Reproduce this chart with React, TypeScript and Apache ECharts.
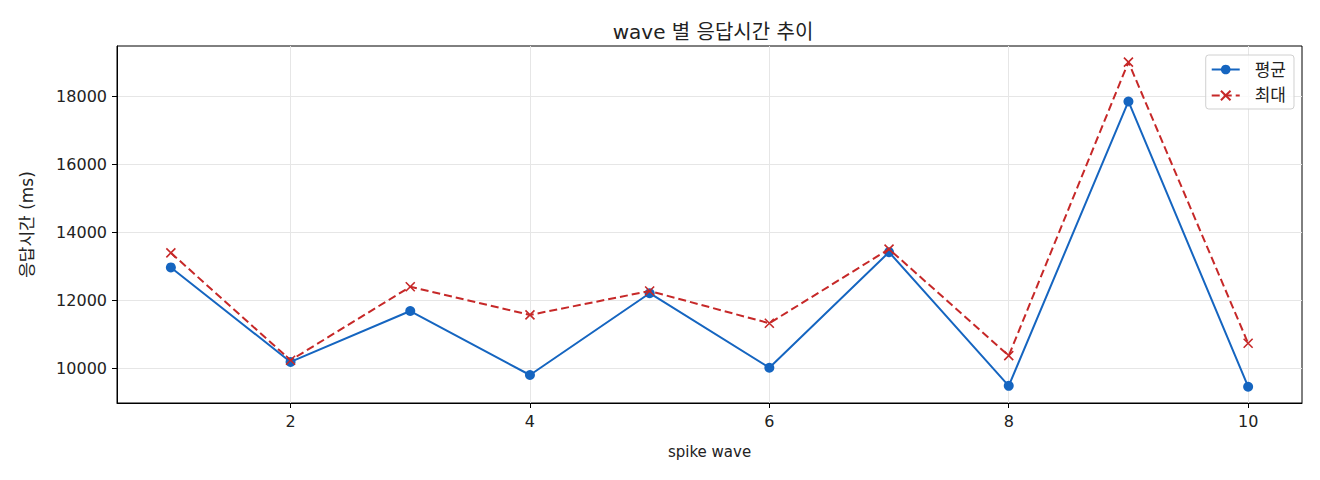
import React, { useEffect, useRef } from 'react';
import * as echarts from 'echarts';

// wave 번호
const waves = [1, 2, 3, 4, 5, 6, 7, 8, 9, 10];
// 평균 응답시간 (ms)
const avgMs = [12970, 10185, 11685, 9800, 12210, 10015, 13420, 9480, 17860, 9455];
// 최대 응답시간 (ms)
const maxMs = [13400, 10235, 12400, 11570, 12275, 11325, 13510, 10370, 19020, 10735];

const xTicks = [2, 4, 6, 8, 10];
const yTicks = [10000, 12000, 14000, 16000, 18000];

const FONT = '"DejaVu Sans", "Noto Sans CJK KR", sans-serif';
const BLUE = '#1565C0';
const RED = '#C62828';

const App: React.FC = () => {
  const chartRef = useRef<HTMLDivElement>(null);

  useEffect(() => {
    document.body.style.margin = '0';
    if (!chartRef.current) return;
    const chart = echarts.init(chartRef.current, null, { renderer: 'svg' });

    const option: any = {
      animation: false,
      backgroundColor: '#fff',
      textStyle: { fontFamily: FONT, color: '#222' },
      title: {
        text: 'wave 별 응답시간 추이',
        left: 708,
        top: 17,
        textAlign: 'center',
        textStyle: { fontFamily: FONT, fontSize: 20, fontWeight: 'normal', color: '#222' },
      },
      legend: {
        right: 26,
        top: 55,
        orient: 'vertical',
        itemWidth: 28,
        itemHeight: 12,
        itemGap: 9,
        padding: [6, 8, 5, 5],
        borderColor: '#d0d0d0',
        borderWidth: 1,
        borderRadius: 3,
        backgroundColor: 'rgba(255,255,255,0.8)',
        textStyle: { fontFamily: FONT, fontSize: 17, color: '#222', padding: [0, 0, 0, 10] },
        data: ['평균', '최대'],
      },
      grid: {
        left: 117,
        right: 18,
        top: 46,
        bottom: 77,
        show: true,
        borderColor: '#000',
        borderWidth: 1,
      },
      xAxis: {
        type: 'value',
        min: 0.55,
        max: 10.45,
        name: 'spike wave',
        nameLocation: 'middle',
        nameGap: 41,
        nameTextStyle: { fontFamily: FONT, fontSize: 15, color: '#222' },
        axisLine: { show: true, lineStyle: { color: '#000', width: 1 } },
        axisTick: { show: true, customValues: xTicks, length: 5, lineStyle: { color: '#000' } },
        axisLabel: {
          customValues: xTicks,
          fontFamily: FONT,
          fontSize: 16,
          color: '#222',
          margin: 10,
          formatter: (v: number) => String(v),
        },
        splitLine: { show: true, lineStyle: { color: '#e6e6e6', width: 1 } },
      },
      yAxis: {
        type: 'value',
        min: 8975,
        max: 19495,
        name: '응답시간 (ms)',
        nameLocation: 'middle',
        nameGap: 82,
        nameTextStyle: { fontFamily: FONT, fontSize: 17, color: '#222' },
        axisLine: { show: true, lineStyle: { color: '#000', width: 1 } },
        axisTick: { show: true, customValues: yTicks, length: 5, lineStyle: { color: '#000' } },
        axisLabel: {
          customValues: yTicks,
          fontFamily: FONT,
          fontSize: 16,
          color: '#222',
          margin: 10,
          formatter: (v: number) => String(v),
        },
        splitLine: { show: true, lineStyle: { color: '#e6e6e6', width: 1 } },
      },
      series: [
        {
          name: '평균',
          type: 'line',
          data: waves.map((w, i) => [w, avgMs[i]]),
          symbol: 'circle',
          symbolSize: 10,
          showSymbol: true,
          itemStyle: { color: BLUE },
          lineStyle: { color: BLUE, width: 2 },
          z: 3,
        },
        {
          name: '최대',
          type: 'line',
          data: waves.map((w, i) => [w, maxMs[i]]),
          symbol: 'path://M0,0L10,10M10,0L0,10',
          symbolSize: 9,
          showSymbol: true,
          itemStyle: { color: RED, borderColor: RED, borderWidth: 1.6 },
          lineStyle: { color: RED, width: 2, type: [8, 4] },
          z: 4,
        },
      ],
    };

    chart.setOption(option);
    return () => {
      chart.dispose();
    };
  }, []);

  return <div ref={chartRef} style={{ width: '1320px', height: '480px' }} />;
};

export default App;
